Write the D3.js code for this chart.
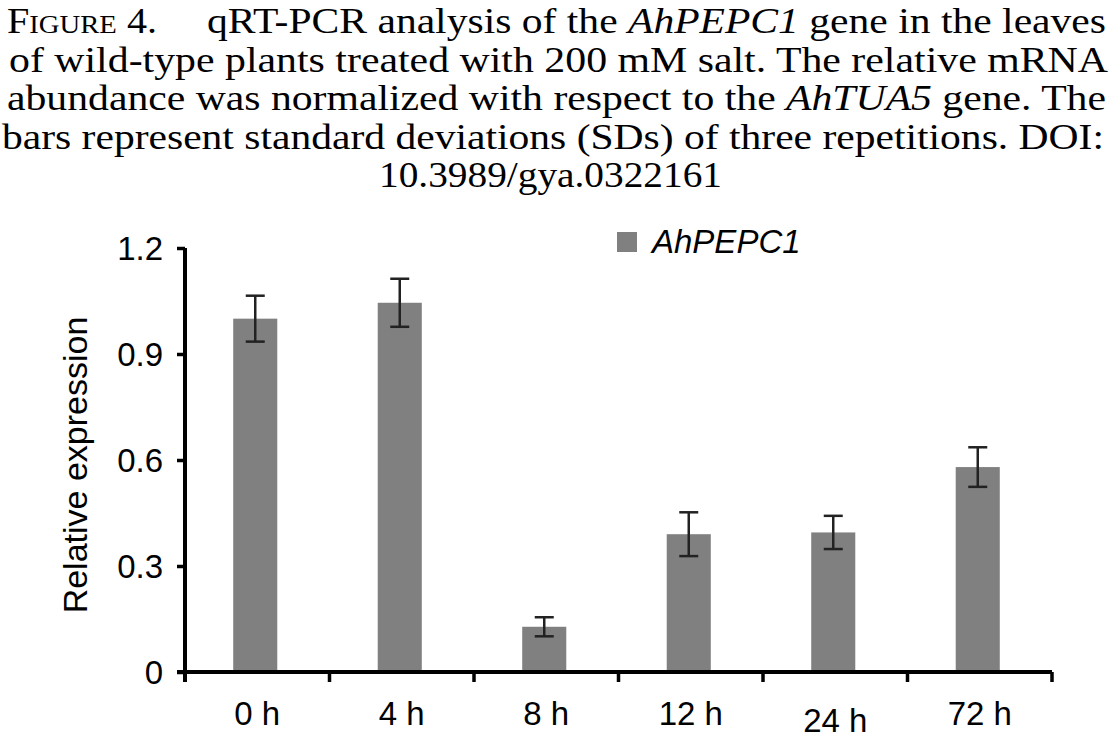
<!DOCTYPE html>
<html>
<head>
<meta charset="utf-8">
<script src="https://cdn.jsdelivr.net/npm/d3@7"></script>
<style>
  body { margin: 0; background: #fff; }
  svg { display: block; }
  .caption { font-family: "Liberation Serif", "Times New Roman", serif; font-size: 35px; fill: #000; white-space: pre; }
  .axis text, .label, .legend text { font-family: "Liberation Sans", Arial, sans-serif; fill: #000; }
</style>
</head>
<body>
<svg width="1114" height="739"></svg>
<script>
// chart data
const categories = ["0 h", "4 h", "8 h", "12 h", "24 h", "72 h"];
const expression = [1.00, 1.045, 0.128, 0.390, 0.395, 0.580];
const sd = [0.065, 0.068, 0.027, 0.062, 0.047, 0.056];
const yTicks = [0, 0.3, 0.6, 0.9, 1.2];
const yTickLabels = ["0", "0.3", "0.6", "0.9", "1.2"];
const seriesName = "AhPEPC1";

// caption lines, each a list of [text, italic]
const captionLines = [
    [["qRT-PCR analysis of the ", false], ["AhPEPC1", true], [" gene in the leaves", false]],
    [["of wild-type plants treated with 200 mM salt. The relative mRNA", false]],
    [["abundance was normalized with respect to the ", false], ["AhTUA5", true], [" gene. The", false]],
    [["bars represent standard deviations (SDs) of three repetitions. DOI:", false]]
];
const captionLast = "10.3989/gya.0322161";

const svg = d3.select("svg");

// ---- caption ----
// the printed caption is a bit wider than plain Times, so stretch each line to its width
const figLabel = svg.append("text")
    .attr("class", "caption")
    .attr("x", 7)
    .attr("y", 33)
    .attr("textLength", 150)
    .attr("lengthAdjust", "spacingAndGlyphs");
figLabel.append("tspan").text("F");
figLabel.append("tspan").style("font-size", "25px").text("IGURE");
figLabel.append("tspan").text(" 4.");

const lineStarts = [207, 9, 7, 2],
    lineEnds = [1106, 1108, 1106, 1104],
    lineY = [33, 71.5, 110, 148.5];

captionLines.forEach((parts, i) => {
    const t = svg.append("text")
        .attr("class", "caption")
        .attr("x", lineStarts[i])
        .attr("y", lineY[i])
        .attr("textLength", lineEnds[i] - lineStarts[i])
        .attr("lengthAdjust", "spacingAndGlyphs");
    parts.forEach(p => {
        t.append("tspan")
            .style("font-style", p[1] ? "italic" : "normal")
            .text(p[0]);
    });
});

svg.append("text")
    .attr("class", "caption")
    .attr("x", 379)
    .attr("y", 187)
    .attr("textLength", 343)
    .attr("lengthAdjust", "spacingAndGlyphs")
    .text(captionLast);

// ---- chart ----
const x = d3.scaleBand().domain(categories).range([185, 1052]).paddingInner(0).paddingOuter(0);
const y = d3.scaleLinear().domain([0, 1.2]).range([672, 248]);

const barW = x.bandwidth() * 0.305;
const cx = d => x(d) + x.bandwidth() / 2 - 2;

// bars
svg.selectAll(".bar")
    .data(categories)
    .enter().append("rect")
    .attr("class", "bar")
    .attr("x", d => cx(d) - barW / 2)
    .attr("y", (d, i) => y(expression[i]))
    .attr("width", barW)
    .attr("height", (d, i) => y(0) - y(expression[i]))
    .attr("fill", "#808080");

// error bars
const err = svg.selectAll(".err")
    .data(categories)
    .enter().append("g")
    .attr("class", "err")
    .attr("stroke", "#222")
    .attr("stroke-width", 2.5);

err.append("line")
    .attr("x1", cx).attr("x2", cx)
    .attr("y1", (d, i) => y(expression[i] + sd[i]))
    .attr("y2", (d, i) => y(expression[i] - sd[i]));
err.append("line")
    .attr("x1", d => cx(d) - 9.5).attr("x2", d => cx(d) + 9.5)
    .attr("y1", (d, i) => y(expression[i] + sd[i]))
    .attr("y2", (d, i) => y(expression[i] + sd[i]));
err.append("line")
    .attr("x1", d => cx(d) - 9.5).attr("x2", d => cx(d) + 9.5)
    .attr("y1", (d, i) => y(expression[i] - sd[i]))
    .attr("y2", (d, i) => y(expression[i] - sd[i]));

// y axis
const yAxis = svg.append("g")
    .attr("class", "axis axis--y")
    .attr("transform", "translate(185,0)")
    .call(d3.axisLeft(y)
        .tickValues(yTicks)
        .tickFormat((d, i) => yTickLabels[i])
        .tickSize(8)
        .tickSizeOuter(0)
        .tickPadding(14));
yAxis.select(".domain").attr("stroke-width", 4).attr("d", `M0,${y(1.2)}V${y(0) + 10}`);
yAxis.selectAll(".tick line").attr("stroke-width", 3.5);
yAxis.selectAll(".tick text").style("font-size", "33px").attr("dy", "0.36em");

// x axis
const xAxis = svg.append("g")
    .attr("class", "axis axis--x")
    .attr("transform", `translate(0,${y(0)})`)
    .call(d3.axisBottom(x).tickSize(0).tickSizeOuter(0));
xAxis.select(".domain").attr("stroke-width", 4).attr("d", "M177,0H1052");
xAxis.selectAll(".tick text")
    .style("font-size", "33px")
    .attr("y", 53)
    .attr("dy", d => d === "24 h" ? 7 : 0);

// boundary ticks between categories
const bounds = categories.map(d => x(d)).concat([x.range()[1]]);
xAxis.selectAll(".bound")
    .data(bounds)
    .enter().append("line")
    .attr("class", "bound")
    .attr("x1", d => d).attr("x2", d => d)
    .attr("y1", 0).attr("y2", 10)
    .attr("stroke", "#000")
    .attr("stroke-width", 3.5);

// y axis title
svg.append("text")
    .attr("class", "label")
    .attr("transform", "rotate(-90)")
    .attr("x", -465)
    .attr("y", 87)
    .attr("text-anchor", "middle")
    .style("font-size", "34px")
    .text("Relative expression");

// legend
const legend = svg.append("g").attr("class", "legend");
legend.append("rect")
    .attr("x", 617).attr("y", 232)
    .attr("width", 20).attr("height", 20)
    .attr("fill", "#808080");
legend.append("text")
    .attr("x", 652).attr("y", 253)
    .style("font-size", "33px")
    .style("font-style", "italic")
    .text(seriesName);
</script>
</body>
</html>
